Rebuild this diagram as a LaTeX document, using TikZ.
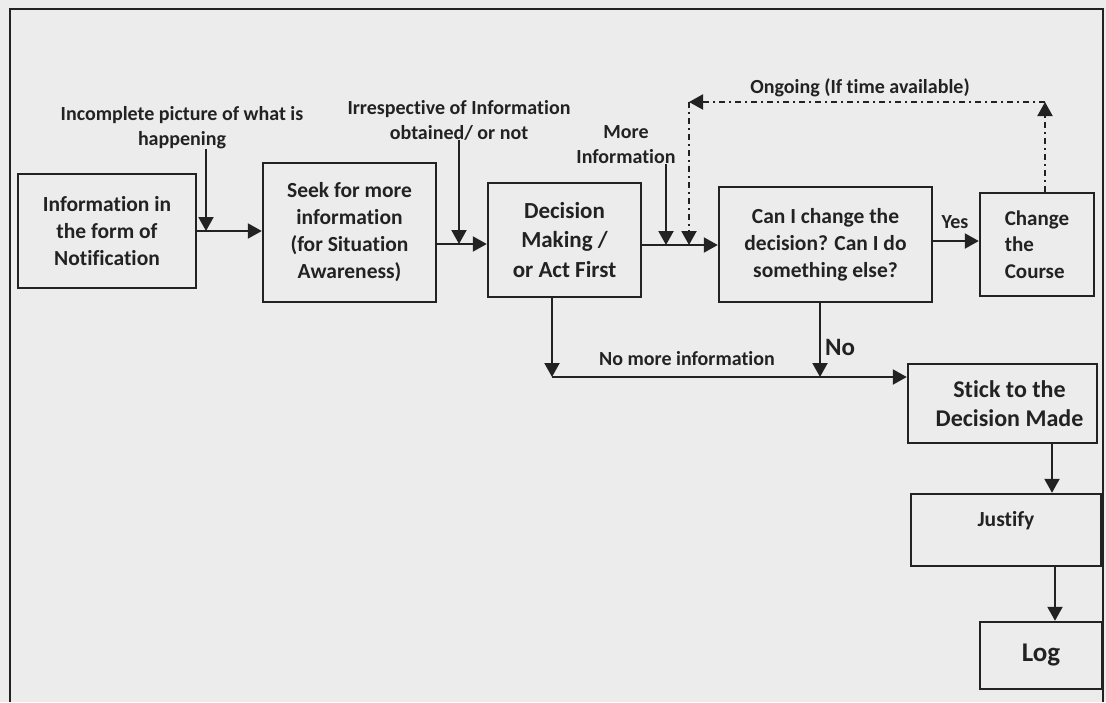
\documentclass[tikz,border=0pt]{standalone}
\usepackage{fontspec}
\setmainfont{Carlito}[Ligatures=NoCommon]
\usetikzlibrary{arrows.meta}
\definecolor{paper}{HTML}{ECECEC}
\definecolor{ink}{HTML}{222222}

\begin{document}
\begin{tikzpicture}[x=1pt,y=-1pt,
  box/.style={draw=ink, line width=2.4pt, inner sep=0pt, align=center, text=ink,
    font=\bfseries\fontsize{21.5}{27}\selectfont},
  lbl/.style={inner sep=0pt, align=center, text=ink,
    font=\bfseries\fontsize{20}{25}\selectfont},
  arr/.style={draw=ink, line width=2pt, -{Triangle[length=14pt,width=15pt]}},
  dd/.style={dash pattern=on 6pt off 4pt on 2pt off 4pt},
  frame/.style={draw=ink, line width=2pt}
]
% page background and bounding box
\path[fill=paper] (0,0) rectangle (1106,702);
\useasboundingbox (0,0) rectangle (1106,702);

% outer frame
\draw[frame] (10,702) -- (10,9) -- (1103,9) -- (1103,702);

% boxes
\node[box, minimum width=178pt, minimum height=114pt] (b1) at (107,231)
  {Information in\\the form of\\Notification};
\node[box, minimum width=173pt, minimum height=139pt] (b2) at (349.5,232.5)
  {Seek for more\\information\\(for Situation\\Awareness)};
\node[box, font=\bfseries\fontsize{23}{29.5}\selectfont,
  minimum width=153pt, minimum height=114pt] (b3) at (564.5,240)
  {Decision\\Making /\\or Act First};
\node[box, minimum width=213pt, minimum height=115pt] (b4) at (825.5,244.5)
  {Can I change the\\decision? Can I do\\something else?};
\node[box, align=left, font=\bfseries\fontsize{21}{26.5}\selectfont,
  minimum width=114pt, minimum height=103pt] (b5) at (1037,244.5)
  {Change\\the\\Course};
\node[box, font=\bfseries\fontsize{24}{29}\selectfont,
  minimum width=189pt, minimum height=79pt] (b6) at (1002.5,403.5)
  {\hspace*{14pt}Stick to the\\\hspace*{14pt}Decision Made};
\node[box, minimum width=190pt, minimum height=72pt] (b7) at (1006,530) {};
\node[lbl, font=\bfseries\fontsize{21.5}{27}\selectfont] (t7) at (1006,521) {Justify};
\node[box, font=\bfseries\fontsize{27}{32}\selectfont,
  minimum width=122pt, minimum height=67pt] (b8) at (1041,655.5) {Log};

% free labels
\node[lbl] (l1) at (182,128) {Incomplete picture of what is\\happening};
\node[lbl] (l2) at (459,120) {Irrespective of Information\\obtained/ or not};
\node[lbl] (l3) at (626,145) {More\\Information};
\node[lbl] (l4) at (860,88) {Ongoing (If time available)};
\node[lbl] (l5) at (955,222) {Yes};
\node[lbl, font=\bfseries\fontsize{25}{30}\selectfont] (l6) at (840,347) {No};
\node[lbl] (l7) at (687,359) {No more information};

% junction points
\coordinate (j1) at (206,231);
\coordinate (j2) at (459,244);
\coordinate (j3) at (666,245);
\coordinate (j4) at (955,241);
\coordinate (d1) at (689,102);
\coordinate (d2) at (1045,102);
\coordinate (d3) at (689,245);
\coordinate (k1) at (552,377);
\coordinate (k2) at (820,377);
\coordinate (m1) at (1052,470);
\coordinate (m2) at (1055,594);

% main flow
\draw[arr] (b1.east |- j1) -- (b2.west |- j1);
\draw[arr] (l1.south -| j1) -- (j1);
\draw[arr] (b2.east |- j2) -- (b3.west |- j2);
\draw[arr] (l2.south -| j2) -- (j2);
\draw[arr] (b3.east |- j3) -- (b4.west |- j3);
\draw[arr] (l3.south -| j3) -- (j3);
\draw[arr] (b4.east |- j4) -- (b5.west |- j4);

% ongoing loop
\draw[arr, dd] (b5.north -| d2) -- (d2);
\draw[arr, dd] (d2) -- (d1);
\draw[arr, dd] (d1) -- (d3);

% no more information / no
\draw[arr] (b3.south -| k1) -- (k1);
\draw[arr] (b4.south -| k2) -- (k2);
\draw[arr] (k1) -- (b6.west |- k1);

% right column
\draw[arr] (b6.south -| m1) -- (b7.north -| m1);
\draw[arr] (b7.south -| m2) -- (b8.north -| m2);
\end{tikzpicture}
\end{document}
